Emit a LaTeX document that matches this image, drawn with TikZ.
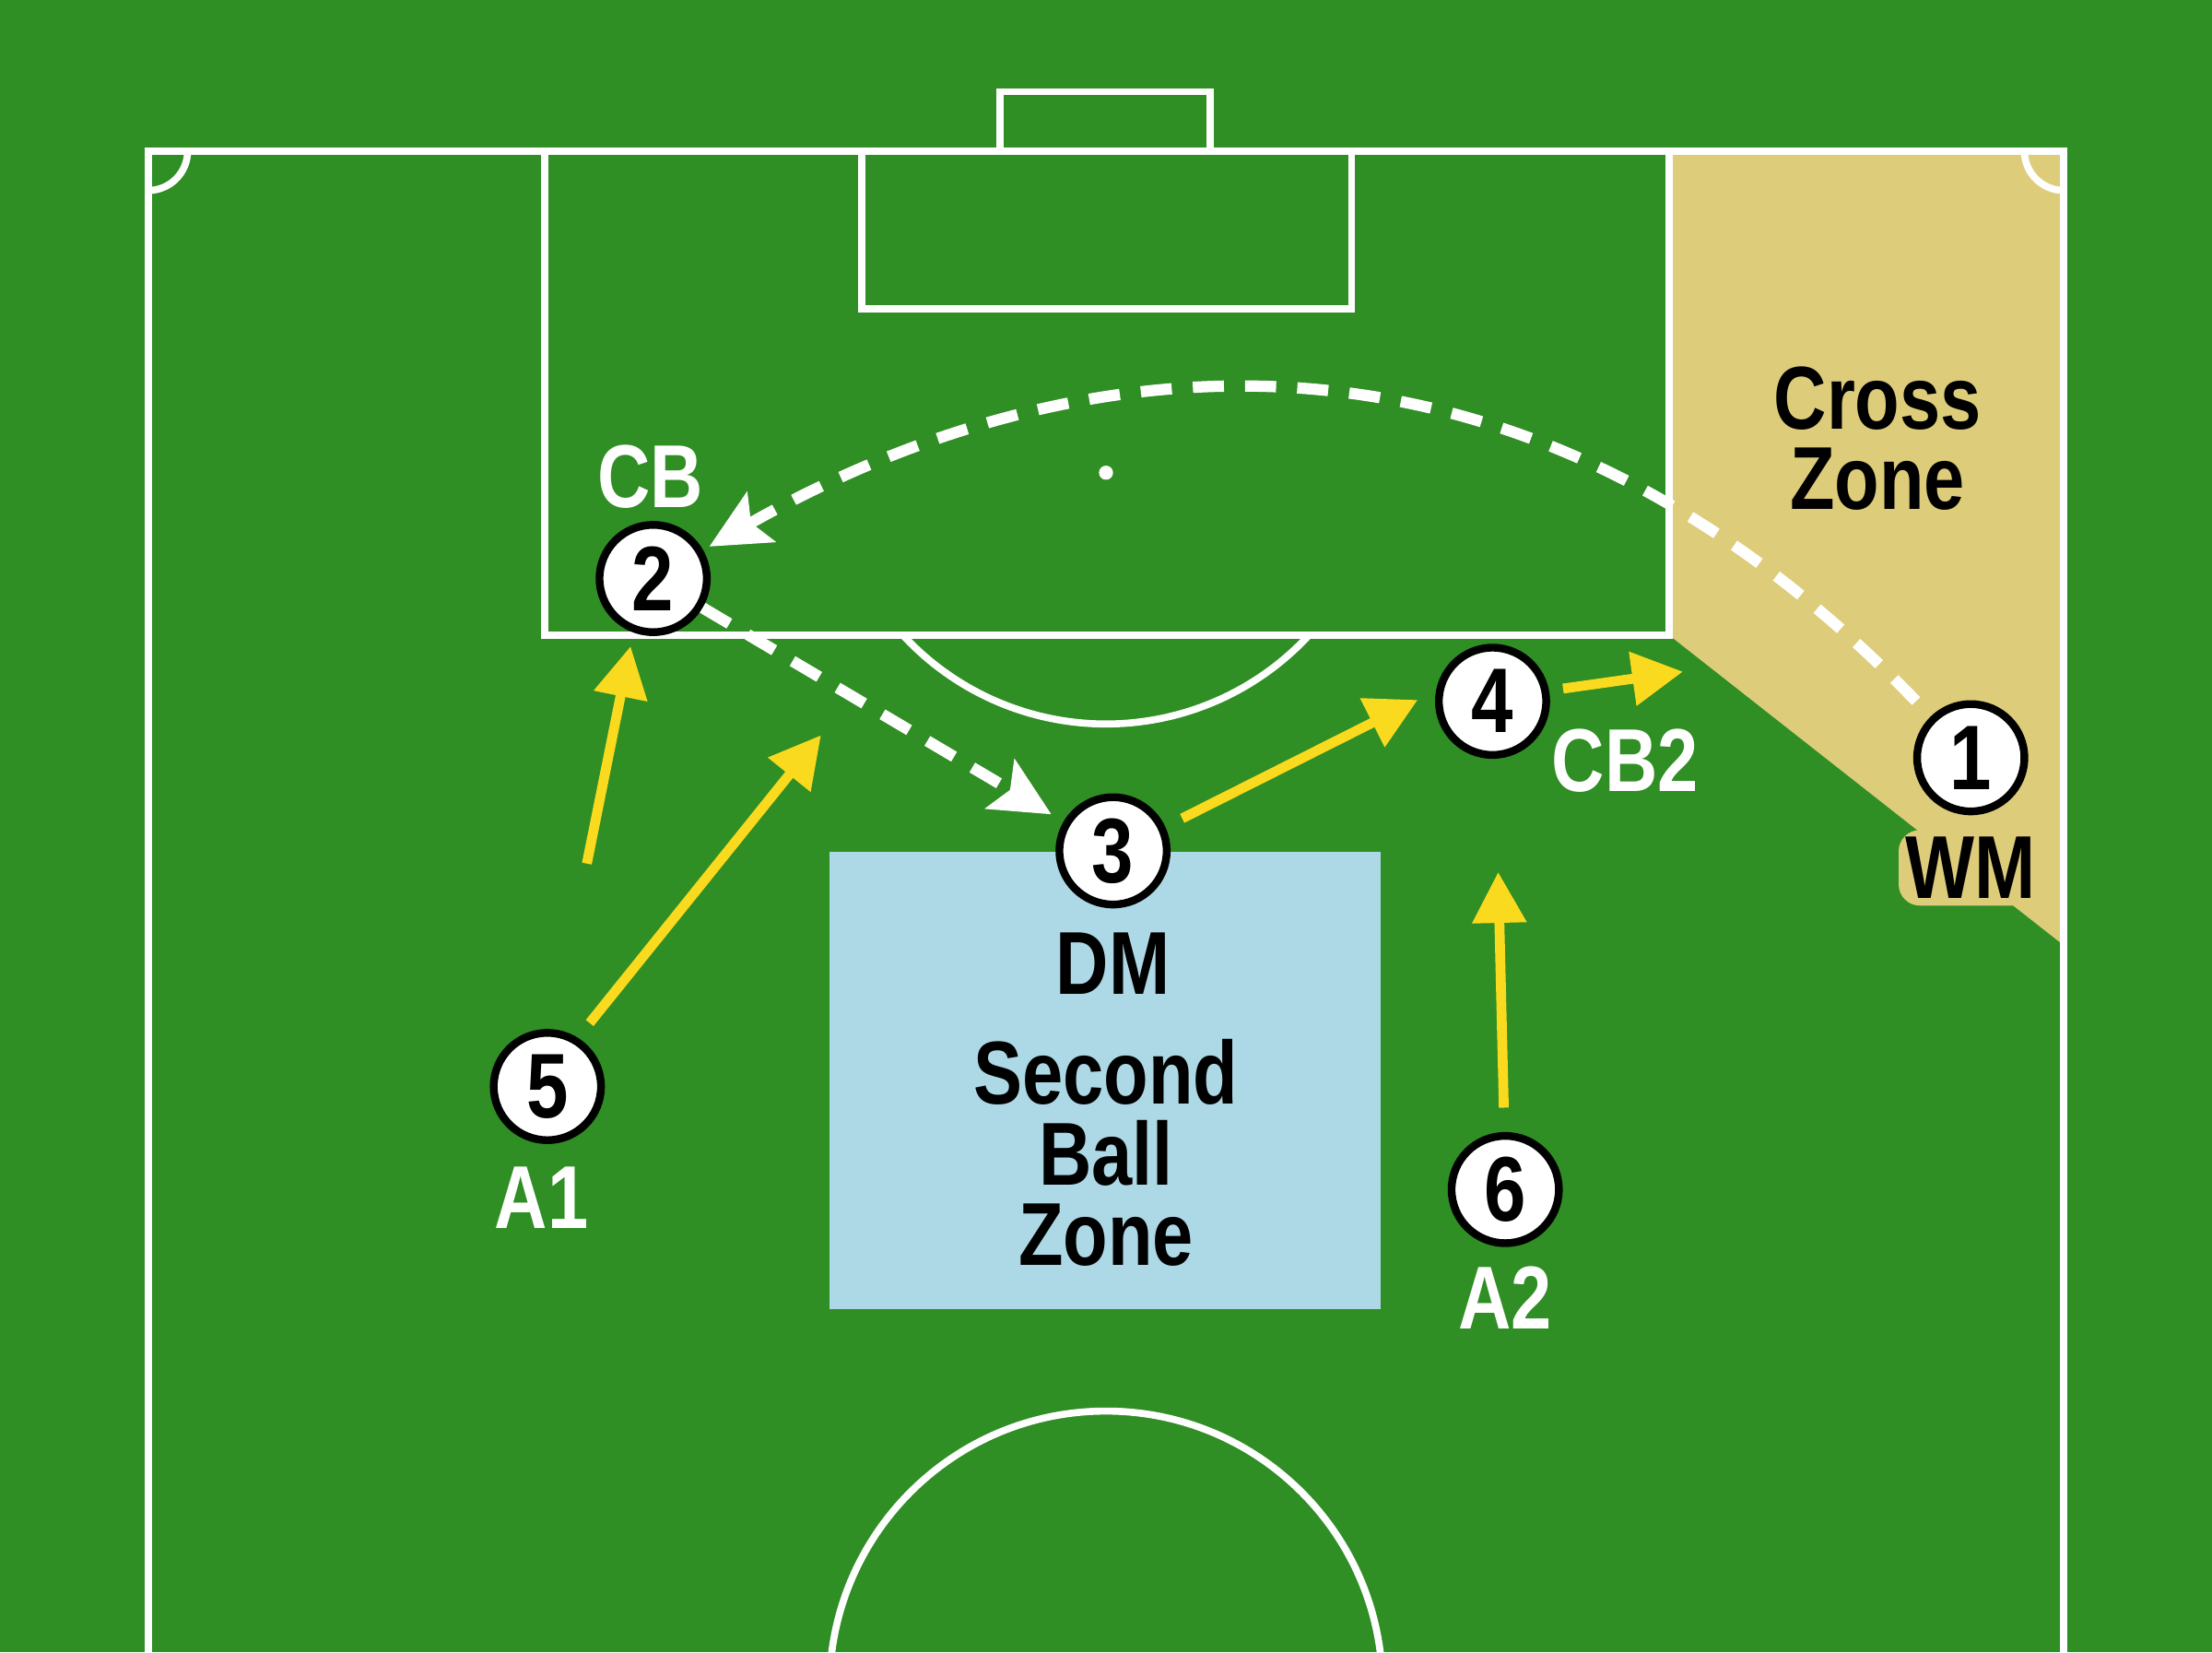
\documentclass[tikz,border=0pt]{standalone}
\usepackage{fontspec}
\setmainfont{Liberation Sans}[FakeStretch=0.82]
\usetikzlibrary{arrows.meta}
\definecolor{pitch}{RGB}{47,142,36}
\definecolor{crosstan}{RGB}{221,204,122}
\definecolor{zoneblue}{RGB}{173,216,230}
\definecolor{runyellow}{RGB}{250,218,30}
\begin{document}
\begin{tikzpicture}[x=0.01cm,y=-0.01cm,
  pitchline/.style={white,line width=0.05cm},
  player/.style={circle,fill=white,draw=black,line width=0.055cm,minimum size=0.76cm,inner sep=0pt,font=\fontsize{18.5}{19}\selectfont\bfseries},
  lab/.style={inner sep=0pt,font=\fontsize{18}{16.2}\selectfont\bfseries},
  wlab/.style={lab,text=white},
  blab/.style={lab,text=black},
  pass/.style={white,line width=0.08cm,dash pattern=on 0.22cm off 0.15cm,-{Stealth[length=0.42cm,width=0.4cm,inset=0.08cm]}},
  run/.style={runyellow,line width=0.07cm,-{Triangle[length=0.36cm,width=0.37cm]}}]

\fill[pitch] (0,0) rectangle (1568,1171);
\useasboundingbox (0,0) rectangle (1568,1171);

% zones
\fill[crosstan] (1183,107) -- (1463,107) -- (1463,670) -- (1183,450) -- cycle;
\fill[zoneblue] (588,604) rectangle (979,928);

% pitch markings
\begin{scope}
\clip (0,0) rectangle (1568,1171);
\draw[pitchline] (105,1180) -- (105,107) -- (1463,107) -- (1463,1180);
\draw[pitchline] (709,107) -- (709,65) -- (858,65) -- (858,107);
\draw[pitchline] (611,107) -- (611,219) -- (958,219) -- (958,107);
\draw[pitchline] (386,107) -- (386,450) -- (1183,450) -- (1183,107);
\draw[pitchline] (928,450) arc[start angle=42.7,end angle=137.3,radius=196];
\draw[pitchline] (784,1196) circle[radius=196];
\draw[pitchline] (133,107) arc[start angle=0,end angle=90,radius=28];
\draw[pitchline] (1435,107) arc[start angle=180,end angle=90,radius=28];
\fill[white] (784,335) circle[radius=5];
\end{scope}

% zone texts
\node[blab,align=center] (cross) at (1331,311) {Cross\\Zone};
\node[blab,align=center] (sbz) at (784,817) {Second\\Ball\\Zone};

% players
\node[player] (p1) at (1397,537) {1};
\node[player] (p2) at (463,410) {2};
\node[player] (p3) at (789,603) {3};
\node[player] (p4) at (1058,497) {4};
\node[player] (p5) at (388,770) {5};
\node[player] (p6) at (1067,843) {6};

% labels
\node[wlab] (l2) at (461,338) {CB};
\node[wlab] (l4) at (1152,539) {CB2};
\node[blab] (l3) at (789,683) {DM};
\node[wlab] (l5) at (384,849) {A1};
\node[wlab] (l6) at (1067,920) {A2};
\node[blab,fill=crosstan,rounded corners=0.15cm,inner sep=0.05cm] (l1) at (1397,615) {WM};

% passes
\draw[pass,shorten <=0.15cm,shorten >=0.05cm] (p1) .. controls (1051,179) and (723,262) .. (p2);
\draw[pass,shorten >=0.1cm] (p2) -- (p3);

% runs
\coordinate (r1s) at (416,612); \coordinate (r1e) at (447,458);
\coordinate (r2s) at (418,725); \coordinate (r2e) at (582,521);
\coordinate (r3s) at (838,580); \coordinate (r3e) at (1005,496);
\coordinate (r4s) at (1108,488); \coordinate (r4e) at (1193,476);
\coordinate (r5s) at (1066,785); \coordinate (r5e) at (1062,618);
\draw[run] (r1s) -- (r1e);
\draw[run] (r2s) -- (r2e);
\draw[run] (r3s) -- (r3e);
\draw[run] (r4s) -- (r4e);
\draw[run] (r5s) -- (r5e);
\end{tikzpicture}
\end{document}
